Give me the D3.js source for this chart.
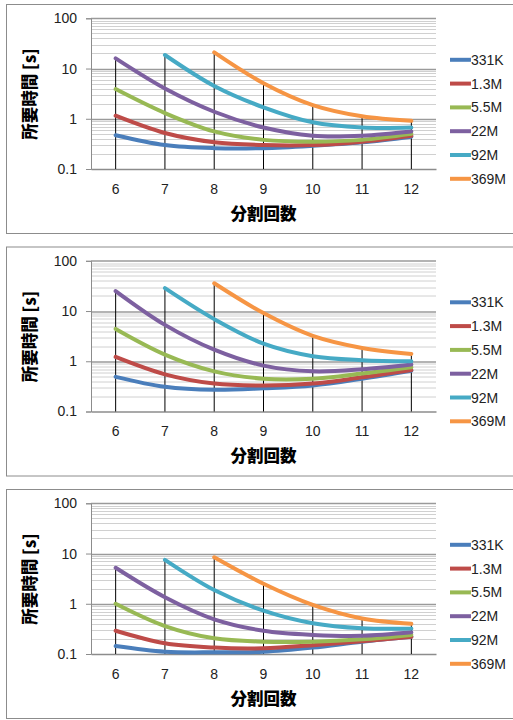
<!DOCTYPE html>
<html>
<head>
<meta charset="utf-8">
<script src="https://cdn.jsdelivr.net/npm/d3@7"></script>
<style>
  body { margin: 0; background: #fff; }
  text { font-family: "Liberation Sans", "DejaVu Sans", sans-serif; }
  .title { font-family: "Noto Sans CJK JP", sans-serif; font-weight: 900; }
</style>
</head>
<body>
<div id="chart"></div>
<script>
// categories (分割回数)
const categories = [6, 7, 8, 9, 10, 11, 12];
const seriesNames = ["331K", "1.3M", "5.5M", "22M", "92M", "369M"];
const colors = ["#4a7ebb", "#be4b48", "#98b954", "#7d60a0", "#46aac5", "#f69544"];
const yTicks = [0.1, 1, 10, 100];

// panel 1
const panel1 = [
  [0.47, 0.30, 0.26, 0.26, 0.29, 0.34, 0.44],
  [1.15, 0.52, 0.34, 0.30, 0.30, 0.35, 0.46],
  [3.9, 1.3, 0.56, 0.38, 0.35, 0.38, 0.50],
  [15.9, 4.0, 1.38, 0.67, 0.46, 0.46, 0.56],
  [null, 18.6, 4.5, 1.69, 0.85, 0.67, 0.67],
  [null, null, 21, 5.1, 1.87, 1.12, 0.91]
];
// panel 2
const panel2 = [
  [0.49, 0.31, 0.27, 0.29, 0.33, 0.45, 0.65],
  [1.22, 0.55, 0.36, 0.33, 0.36, 0.48, 0.67],
  [4.4, 1.36, 0.63, 0.45, 0.45, 0.57, 0.76],
  [25, 5.3, 1.7, 0.82, 0.63, 0.69, 0.86],
  [null, 28.5, 6.9, 2.24, 1.26, 1.05, 1.0],
  [null, null, 35.7, 9.1, 3.2, 1.84, 1.40]
];
// panel 3
const panel3 = [
  [0.144, 0.111, 0.108, 0.111, 0.134, 0.176, 0.22],
  [0.29, 0.163, 0.134, 0.13, 0.15, 0.18, 0.22],
  [1.0, 0.36, 0.205, 0.176, 0.176, 0.196, 0.24],
  [5.2, 1.35, 0.49, 0.29, 0.24, 0.23, 0.27],
  [null, 7.5, 1.88, 0.73, 0.41, 0.325, 0.32],
  [null, null, 8.4, 2.5, 0.95, 0.51, 0.40]
];
const panels = [panel1, panel2, panel3];

const W = 513, H = 720;
const pitch = 242.5;
const svg = d3.select("#chart").append("svg")
  .attr("width", W).attr("height", H);

const x = d3.scaleBand().domain(categories).range([91, 436]);
const y = d3.scaleLog().domain([0.1, 100]).range([169, 18.3]);

const line = d3.line()
  .defined(d => d != null)
  .x((d, i) => x(categories[i]) + x.bandwidth() / 2)
  .y(d => y(d))
  .curve(d3.curveCatmullRom.alpha(0.5));

// minor grid values
const minor = [];
[0.1, 1, 10].forEach(base => {
  for (let k = 2; k <= 9; k++) minor.push(base * k);
});

panels.forEach((data, p) => {
  const g = svg.append("g").attr("transform", `translate(0,${p * pitch})`);

  // frame
  g.append("rect")
    .attr("x", 6.5).attr("y", 4.5)
    .attr("width", 520).attr("height", 229)
    .attr("fill", "#fff").attr("stroke", "#8c8c8c");

  // minor gridlines
  g.append("g").selectAll("line").data(minor).join("line")
    .attr("x1", 91).attr("x2", 436)
    .attr("y1", d => Math.round(y(d)) + 0.5).attr("y2", d => Math.round(y(d)) + 0.5)
    .attr("stroke", "#d0d0d0").attr("stroke-width", 1);

  // major gridlines
  g.append("g").selectAll("line").data(yTicks.slice(1)).join("line")
    .attr("x1", 91).attr("x2", 436)
    .attr("y1", d => Math.round(y(d)) + 0.5).attr("y2", d => Math.round(y(d)) + 0.5)
    .attr("stroke", "#9a9a9a").attr("stroke-width", 1.5);

  // y axis
  const yAxis = g.append("g")
    .attr("transform", "translate(91,0)")
    .call(d3.axisLeft(y).tickValues(yTicks).tickFormat(d3.format("~g")).tickSize(5).tickPadding(9));
  yAxis.select(".domain").attr("stroke", "#8c8c8c");
  yAxis.selectAll(".tick line").attr("stroke", "#8c8c8c");
  yAxis.selectAll("text").attr("font-size", 14).attr("fill", "#222");

  // x axis
  const xAxis = g.append("g")
    .attr("transform", "translate(0,169)")
    .call(d3.axisBottom(x).tickSize(0).tickPadding(15));
  xAxis.select(".domain").attr("stroke", "#8c8c8c").attr("stroke-width", 1.5);
  xAxis.selectAll("text").attr("font-size", 14).attr("fill", "#222");

  // drop lines from the highest point of each category
  g.append("g").selectAll("line").data(categories).join("line")
    .attr("x1", d => x(d) + x.bandwidth() / 2)
    .attr("x2", d => x(d) + x.bandwidth() / 2)
    .attr("y1", (d, i) => y(d3.max(data, s => s[i])))
    .attr("y2", 169)
    .attr("stroke", "#000").attr("stroke-width", 1);

  // series
  g.append("g").selectAll("path").data(data).join("path")
    .attr("d", d => line(d))
    .attr("fill", "none")
    .attr("stroke", (d, i) => colors[i])
    .attr("stroke-width", 4)
    .attr("stroke-linecap", "round")
    .attr("stroke-linejoin", "round");

  // legend
  const leg = g.append("g").selectAll("g").data(seriesNames).join("g")
    .attr("transform", (d, i) => `translate(450,${41.5 + 18.3 + i * 23.8})`);
  leg.append("line")
    .attr("x1", 0).attr("x2", 21)
    .attr("stroke", (d, i) => colors[i]).attr("stroke-width", 4);
  leg.append("text")
    .attr("x", 21).attr("dy", "0.36em")
    .attr("font-size", 14).attr("fill", "#222")
    .text(d => d);

  // axis titles
  g.append("text").attr("class", "title")
    .attr("x", 263.5).attr("y", 219.5)
    .attr("text-anchor", "middle").attr("font-size", 16.5)
    .text("分割回数");
  g.append("text").attr("class", "title")
    .attr("transform", "translate(36,94) rotate(-90)")
    .attr("text-anchor", "middle").attr("font-size", 16.5)
    .text("所要時間 [s]");
});
</script>
</body>
</html>
